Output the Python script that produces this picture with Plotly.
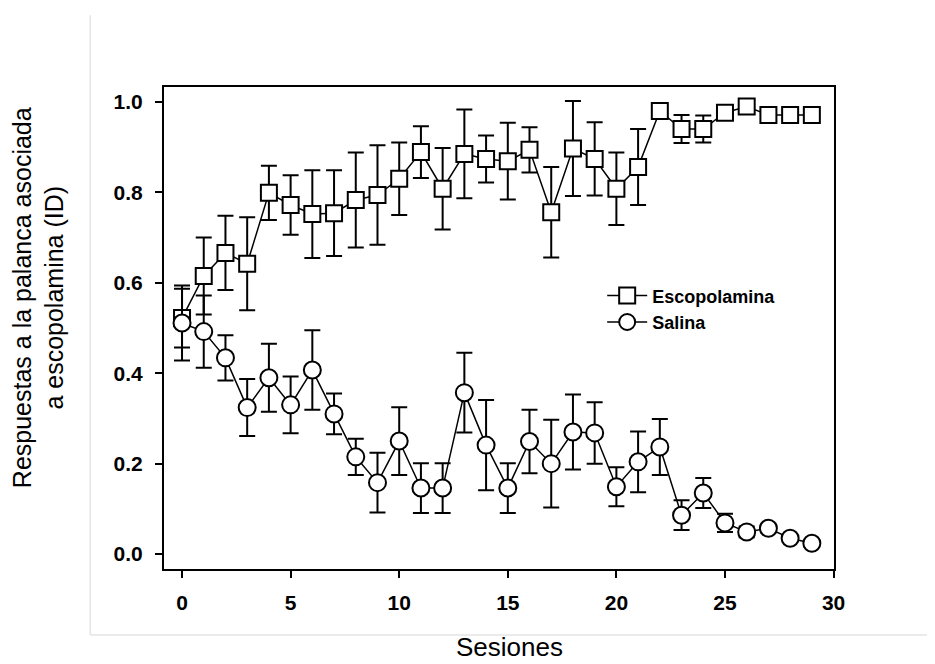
import plotly.graph_objects as go

sesiones = list(range(30))

escopolamina = [0.522, 0.615, 0.666, 0.642, 0.799, 0.772, 0.752, 0.754, 0.783, 0.794,
                0.830, 0.889, 0.808, 0.885, 0.874, 0.869, 0.894, 0.756, 0.897, 0.874,
                0.808, 0.856, 0.980, 0.940, 0.940, 0.976, 0.990, 0.971, 0.971, 0.971]
escopolamina_err = [0.065, 0.085, 0.082, 0.103, 0.060, 0.066, 0.097, 0.095, 0.105, 0.110,
                    0.080, 0.057, 0.090, 0.098, 0.052, 0.085, 0.050, 0.100, 0.105, 0.081,
                    0.080, 0.084, 0.010, 0.031, 0.030, 0.004, 0.006, 0.003, 0.003, 0.003]

salina = [0.511, 0.492, 0.434, 0.324, 0.390, 0.330, 0.407, 0.310, 0.215, 0.158,
          0.250, 0.146, 0.146, 0.357, 0.241, 0.146, 0.249, 0.200, 0.270, 0.268,
          0.149, 0.204, 0.237, 0.086, 0.135, 0.069, 0.049, 0.057, 0.035, 0.024]
salina_err = [0.083, 0.080, 0.050, 0.063, 0.075, 0.063, 0.088, 0.045, 0.040, 0.066,
              0.075, 0.055, 0.055, 0.088, 0.100, 0.055, 0.070, 0.097, 0.083, 0.068,
              0.043, 0.067, 0.062, 0.033, 0.033, 0.020, 0.012, 0.010, 0.008, 0.008]

x_ticks = [0, 5, 10, 15, 20, 25, 30]
y_ticks = [0.0, 0.2, 0.4, 0.6, 0.8, 1.0]
y_tick_text = ["0.0", "0.2", "0.4", "0.6", "0.8", "1.0"]

fig = go.Figure()

fig.add_trace(go.Scatter(
    x=sesiones, y=escopolamina, name="Escopolamina", mode="lines+markers",
    line=dict(color="black", width=1.5),
    marker=dict(symbol="square", size=16, color="white", line=dict(color="black", width=2)),
    error_y=dict(type="data", array=escopolamina_err, visible=True, color="black",
                 thickness=2, width=8),
))
fig.add_trace(go.Scatter(
    x=sesiones, y=salina, name="Salina", mode="lines+markers",
    line=dict(color="black", width=1.5),
    marker=dict(symbol="circle", size=17, color="white", line=dict(color="black", width=2)),
    error_y=dict(type="data", array=salina_err, visible=True, color="black",
                 thickness=2, width=8),
))

tickfont = dict(family="Liberation Sans, Arial", size=21, color="black", weight="bold")

fig.update_layout(
    width=927, height=656,
    margin=dict(l=156, r=101, t=79, b=95),
    plot_bgcolor="white", paper_bgcolor="white",
    showlegend=True,
    legend=dict(x=0.654, y=0.605, xanchor="left", yanchor="top",
                bgcolor="rgba(0,0,0,0)", borderwidth=0,
                font=dict(family="Liberation Sans, Arial", size=18, color="black", weight="bold"),
                itemwidth=40, tracegroupgap=0),
    xaxis=dict(range=[-0.83, 30.02], tickmode="array", tickvals=x_ticks,
               ticks="outside", ticklen=7, tickwidth=2, tickcolor="black",
               ticklabelstandoff=7,
               showline=True, linecolor="black", linewidth=2, mirror=True,
               showgrid=False, zeroline=False, tickfont=tickfont),
    yaxis=dict(range=[-0.033, 1.033], tickmode="array", tickvals=y_ticks, ticktext=y_tick_text,
               ticks="outside", ticklen=7, tickwidth=2, tickcolor="black",
               ticklabelstandoff=8,
               showline=True, linecolor="black", linewidth=2, mirror=True,
               showgrid=False, zeroline=False, tickfont=tickfont),
    shapes=[
        dict(type="line", xref="paper", yref="paper", x0=-0.110, x1=-0.110, y0=1.149, y1=-0.137,
             line=dict(color="#e4e4e4", width=1.5)),
        dict(type="line", xref="paper", yref="paper", x0=-0.110, x1=1.16, y0=-0.137, y1=-0.137,
             line=dict(color="#e4e4e4", width=1.5)),
    ],
    annotations=[
        dict(text="Respuestas a la palanca asociada<br>a escopolamina (ID)", textangle=-90,
             xref="paper", yref="paper", x=-0.188, y=0.562, showarrow=False,
             xanchor="center", yanchor="middle",
             font=dict(family="Liberation Sans, Arial", size=25, color="black")),
        dict(text="Sesiones", xref="paper", yref="paper", x=0.516, y=-0.162, showarrow=False,
             xanchor="center", yanchor="middle",
             font=dict(family="Liberation Sans, Arial", size=26, color="black")),
    ],
)

fig.write_html("out.html")
